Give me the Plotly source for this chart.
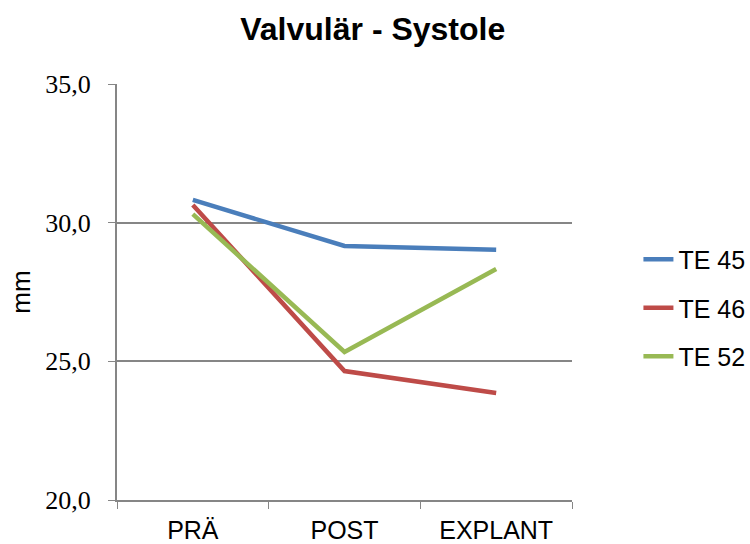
import plotly.graph_objects as go

categories = ["PRÄ", "POST", "EXPLANT"]
series_names = ["TE 45", "TE 46", "TE 52"]
te45 = [30.82, 29.16, 29.02]
te46 = [30.64, 24.65, 23.86]
te52 = [30.31, 25.34, 28.33]
colors = ["#4A7EBB", "#BE4B48", "#98B954"]
y_ticks = [20, 25, 30, 35]
y_ticklabels = ["20,0", "25,0", "30,0", "35,0"]

fig = go.Figure()
for i, (name, vals) in enumerate(zip(series_names, [te45, te46, te52])):
    fig.add_trace(go.Scatter(
        x=categories, y=vals, mode="lines", name=name,
        legendgroup=name,
        line=dict(color=colors[i], width=4.5),
    ))

fig.update_layout(
    width=750, height=544,
    paper_bgcolor="white", plot_bgcolor="white",
    margin=dict(l=117, r=178, t=84, b=44, autoexpand=False),
    title=dict(text="<b>Valvulär - Systole</b>", x=0.497, xanchor="center",
               y=0.9467, yanchor="middle",
               font=dict(family="Liberation Sans, Arial", size=32, color="black")),
    legend=dict(x=1.146, xanchor="left", y=0.4615, yanchor="middle",
                font=dict(family="Liberation Sans, Arial", size=25, color="black"),
                traceorder="grouped", tracegroupgap=13,
                bgcolor="rgba(0,0,0,0)"),
    showlegend=True,
)
fig.update_xaxes(
    type="category", range=[-0.5, 2.5], automargin=False,
    tickson="boundaries", ticks="outside", ticklen=7, tickcolor="#868686",
    showline=True, linecolor="#868686", linewidth=2,
    showgrid=False, ticklabelstandoff=7,
    tickfont=dict(family="Liberation Sans, Arial", size=25, color="black"),
)
fig.update_yaxes(
    range=[20, 35], tickvals=y_ticks, ticktext=y_ticklabels, automargin=False,
    ticks="outside", ticklen=7, tickcolor="#868686",
    showline=True, linecolor="#868686", linewidth=2,
    showgrid=True, gridcolor="#868686", gridwidth=1.5,
    zeroline=False, ticklabelstandoff=12,
    tickfont=dict(family="Liberation Serif", size=26, color="black"),
    title=dict(text="mm", font=dict(family="Liberation Sans, Arial", size=26, color="black"), standoff=7),
)

fig.write_html("out.html", post_script="document.body.style.margin='0';",
               config={"displayModeBar": False})
